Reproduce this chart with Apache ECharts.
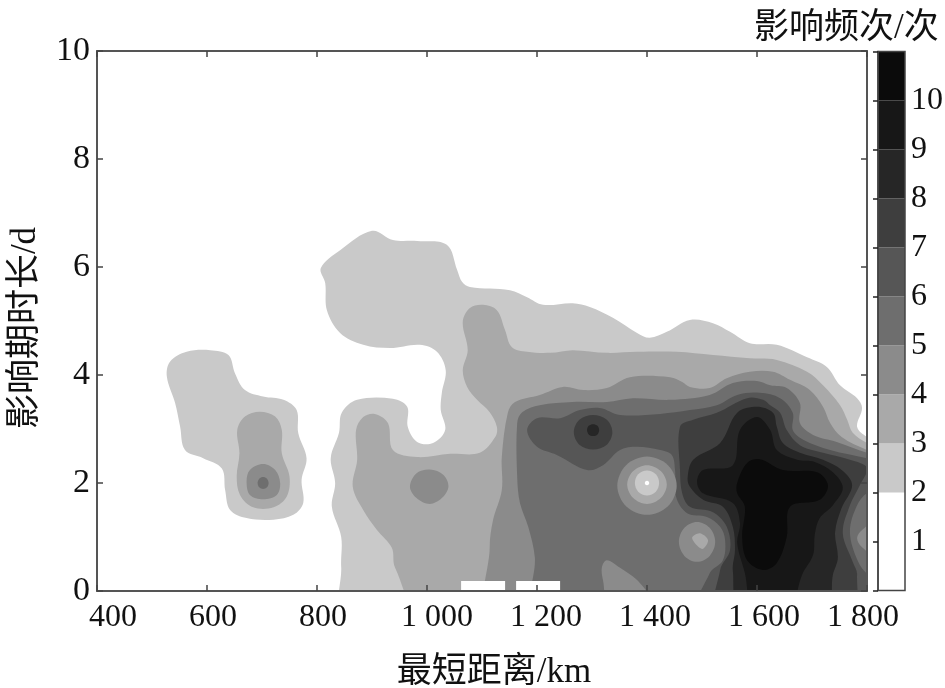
<!DOCTYPE html>
<html><head><meta charset="utf-8">
<style>html,body{margin:0;padding:0;background:#fff}#c{width:945px;height:688px}</style>
<script src="https://cdn.jsdelivr.net/npm/echarts@6/dist/echarts.min.js"></script>
</head><body><div id="c"></div>
<script>
const xTickLabels = {400:'400',600:'600',800:'800',1000:'1 000',1200:'1 200',1400:'1 400',1600:'1 600',1800:'1 800'};
const yTicks = [0,2,4,6,8,10];
const colorbarTicks = [1,2,3,4,5,6,7,8,9,10];
const colorbarLow  = [0,2,3,4,5,6,7,8,9,10];
const colorbarHigh = [2,3,4,5,6,7,8,9,10,11];
const levelGray = {1:'#ffffff',2:'#c9c9c9',3:'#a9a9a9',4:'#8b8b8b',5:'#6e6e6e',6:'#565656',7:'#3e3e3e',8:'#262626',9:'#171717',10:'#0b0b0b'};

// contour outlines as [distance km, duration d]
const c2Main = [[807,5.98],[842,6.31],[900,6.67],[938,6.50],[982,6.48],[1036,6.41],[1055,5.94],[1064,5.72],[1078,5.63],[1151,5.57],[1182,5.44],[1211,5.30],[1265,5.33],[1296,5.26],[1338,5.06],[1382,4.78],[1405,4.69],[1436,4.80],[1478,5.02],[1520,4.96],[1551,4.80],[1587,4.59],[1636,4.56],[1691,4.33],[1727,4.15],[1751,3.81],[1782,3.57],[1791,3.39],[1782,3.04],[1800,2.85],[1830,2.7],[1830,-0.5],[853,-0.5],[844,0.44],[844,1.0],[827,1.56],[833,2.0],[825,2.46],[840,2.93],[845,3.30],[873,3.54],[938,3.56],[964,3.41],[965,3.04],[982,2.76],[1011,2.74],[1033,2.98],[1025,3.35],[1027,3.67],[1034,4.09],[1018,4.43],[987,4.56],[933,4.50],[884,4.56],[842,4.78],[818,5.20],[815,5.70]];
const c2Left = [[527,3.97],[533,4.25],[563,4.43],[606,4.46],[639,4.37],[651,4.03],[669,3.72],[702,3.60],[739,3.54],[763,3.35],[766,2.92],[781,2.46],[772,2.06],[775,1.63],[757,1.41],[721,1.32],[672,1.35],[642,1.50],[633,1.87],[627,2.27],[593,2.46],[560,2.61],[551,3.05],[542,3.48]];
const c3Main = [[1065,4.98],[1078,5.24],[1102,5.30],[1127,5.20],[1142,4.83],[1154,4.52],[1182,4.43],[1224,4.41],[1265,4.46],[1327,4.41],[1382,4.43],[1454,4.43],[1520,4.37],[1587,4.31],[1636,4.28],[1691,4.06],[1720,3.81],[1751,3.44],[1764,3.17],[1774,2.93],[1800,2.74],[1830,2.6],[1830,-0.5],[1000,-0.5],[942,0.43],[936,0.80],[909,1.13],[884,1.50],[865,1.93],[873,2.43],[871,2.98],[884,3.22],[905,3.28],[929,3.11],[938,2.61],[982,2.48],[1042,2.54],[1096,2.56],[1124,2.85],[1127,3.04],[1114,3.31],[1091,3.54],[1073,3.78],[1065,4.09],[1074,4.46]];
const c3Left = [[655,2.98],[669,3.23],[696,3.32],[724,3.23],[736,2.98],[736,2.55],[750,2.12],[745,1.75],[721,1.55],[684,1.55],[660,1.78],[654,2.12],[659,2.55]];
const c4Main = [[1120,-0.5],[1114,0.81],[1120,1.31],[1136,1.87],[1136,2.48],[1147,3.30],[1160,3.50],[1205,3.63],[1247,3.78],[1284,3.72],[1327,3.76],[1369,3.96],[1442,3.96],[1464,3.87],[1478,3.78],[1514,3.76],[1545,3.94],[1587,4.06],[1629,4.06],[1660,3.91],[1696,3.72],[1720,3.41],[1733,3.11],[1754,2.85],[1800,2.61],[1830,2.52],[1830,-0.5]];
const c4Left = [[672,2.03],[678,2.24],[702,2.35],[724,2.24],[733,2.0],[727,1.78],[702,1.70],[678,1.78]];
const c4At1000 = [[969,1.93],[981,2.18],[1005,2.25],[1030,2.15],[1039,1.93],[1027,1.72],[1005,1.61],[981,1.72]];
const c5Main = [[1200,-0.5],[1196,0.63],[1184,1.19],[1169,1.63],[1164,2.11],[1164,3.11],[1173,3.31],[1205,3.44],[1265,3.50],[1327,3.50],[1374,3.57],[1442,3.54],[1514,3.63],[1556,3.85],[1600,3.89],[1624,3.81],[1654,3.76],[1678,3.48],[1678,3.11],[1702,2.89],[1745,2.76],[1800,2.56],[1830,2.5],[1830,-0.5]];
const c5Left = [[692,2],[695,2.08],[702,2.11],[709,2.08],[712,2],[709,1.92],[702,1.89],[695,1.92]];
const c6Main = [[1182,2.98],[1200,3.20],[1242,3.20],[1278,3.35],[1314,3.39],[1351,3.26],[1424,3.28],[1478,3.35],[1527,3.44],[1564,3.63],[1605,3.67],[1642,3.57],[1665,3.30],[1665,2.98],[1684,2.80],[1733,2.61],[1800,2.46],[1830,2.39],[1830,1.91],[1802,1.83],[1782,1.59],[1769,1.09],[1784,0.54],[1802,0.30],[1830,0.11],[1830,-0.5],[1491,-0.5],[1514,0.33],[1538,0.57],[1542,0.94],[1533,1.19],[1509,1.37],[1473,1.44],[1453,1.74],[1451,2.24],[1445,2.52],[1424,2.61],[1382,2.67],[1351,2.61],[1320,2.33],[1291,2.24],[1236,2.52],[1200,2.67]];
const c7Main = [[1460,2.24],[1460,3.04],[1484,3.17],[1527,3.30],[1582,3.57],[1611,3.54],[1624,3.44],[1642,3.30],[1654,2.98],[1678,2.70],[1720,2.56],[1769,2.43],[1800,2.28],[1787,1.96],[1769,1.59],[1756,1.07],[1774,0.54],[1782,0.30],[1769,-0.5],[1529,-0.5],[1533,0.39],[1551,0.76],[1545,1.19],[1520,1.46],[1478,1.56],[1464,1.81]];
const c7At1300 = [[1337,2.94],[1327,3.17],[1302,3.26],[1277,3.17],[1267,2.94],[1277,2.71],[1302,2.62],[1327,2.71]];
const c8Main = [[1474,2.11],[1484,2.43],[1533,2.74],[1564,3.30],[1600,3.41],[1629,3.30],[1636,3.04],[1647,2.74],[1678,2.56],[1720,2.43],[1754,2.24],[1773,1.96],[1754,1.54],[1742,1.09],[1747,0.61],[1738,0.30],[1724,-0.5],[1573,-0.5],[1556,0.39],[1560,0.76],[1556,1.19],[1538,1.56],[1502,1.69],[1478,1.93]];
const c8At1300 = [[1313,2.98],[1310,3.06],[1302,3.09],[1294,3.06],[1291,2.98],[1294,2.90],[1302,2.87],[1310,2.90]];
const c9Main = [[1491,2.02],[1502,2.24],[1556,2.33],[1569,2.98],[1600,3.22],[1624,2.98],[1636,2.61],[1673,2.43],[1705,2.39],[1738,2.20],[1756,1.91],[1738,1.59],[1714,1.35],[1705,1.04],[1702,0.67],[1682,0.30],[1654,-0.5],[1596,-0.5],[1578,0.33],[1564,0.89],[1569,1.26],[1556,1.63],[1502,1.81]];
const c10Main = [[1564,1.81],[1564,2.0],[1582,2.37],[1605,2.44],[1647,2.24],[1709,2.20],[1729,1.96],[1714,1.69],[1660,1.56],[1654,1.0],[1636,0.52],[1611,0.39],[1582,0.57],[1573,1.0],[1578,1.56]];
// local minima painted over the higher levels
const low4At1400 = [[1454,1.95],[1438,2.33],[1400,2.49],[1362,2.33],[1346,1.95],[1362,1.57],[1400,1.41],[1438,1.57]];
const low3At1400 = [[1436,1.97],[1425,2.22],[1400,2.33],[1375,2.22],[1364,1.97],[1375,1.72],[1400,1.61],[1425,1.72]];
const low2At1400 = [[1422,2],[1416,2.16],[1400,2.23],[1384,2.16],[1378,2],[1384,1.84],[1400,1.77],[1416,1.84]];
const low1At1400 = [[1404,2],[1403,2.03],[1400,2.04],[1397,2.03],[1396,2],[1397,1.97],[1400,1.96],[1403,1.97]];
const low4At1490 = [[1524,0.91],[1514,1.17],[1491,1.28],[1468,1.17],[1458,0.91],[1468,0.65],[1491,0.54],[1514,0.65]];
const low3At1490 = [[1482,0.98],[1496,1.07],[1511,0.94],[1500,0.78]];
const low4At1340 = [[1318,0.44],[1327,0.57],[1351,0.43],[1387,0.15],[1414,-0.3],[1333,-0.3],[1320,0.2]];
const low4At1800 = [[1830,1.4],[1791,1.13],[1782,0.98],[1791,0.81],[1830,0.55]];
const gapA = [[1062,0],[1142,0],[1142,0.185],[1062,0.185]];
const gapB = [[1162,0],[1242,0],[1242,0.185],[1162,0.185]];

const layers = [
  [c2Main,2],[c2Left,2],[c3Main,3],[c3Left,3],[c4Main,4],[c4Left,4],[c4At1000,4],
  [c5Main,5],[c5Left,5],[c6Main,6],[c7Main,7],[c7At1300,7],[c8Main,8],[c8At1300,8],[c9Main,9],[c10Main,10],
  [low4At1400,4],[low3At1400,3],[low2At1400,2],[low1At1400,1],[low4At1490,4],[low3At1490,3],[low4At1340,4],[low4At1800,4],
  [gapA,1,true],[gapB,1,true]
];

const serif = '"Liberation Serif","Noto Sans CJK SC",serif';
const labelPad = {400:[0,0,0,32],600:[0,0,0,12],800:[0,0,0,12],1000:[0,0,0,20],1200:[0,0,0,18],1400:[0,0,0,16],1600:[0,0,0,14],1800:[0,8,0,0]};
const rich = {};
Object.keys(labelPad).forEach(k=>{rich['v'+k]={fontFamily:serif,fontSize:32,color:'#111',padding:labelPad[k]};});

const axisLine = {show:true,onZero:false,lineStyle:{color:'#555',width:2}};
const axisTick = {show:true,inside:true,length:6,lineStyle:{color:'#444',width:1.5}};

const option = {
  animation:false,
  backgroundColor:'#fff',
  title:{text:'影响频次/次',left:749,top:6,textStyle:{fontFamily:serif,fontSize:35,fontWeight:'normal',color:'#111'}},
  grid:[
    {left:97,top:51,width:770,height:540,outerBoundsMode:'none',containLabel:false},
    {left:878,top:51.5,width:27,height:539,outerBoundsMode:'none',containLabel:false}
  ],
  xAxis:[
    {gridIndex:0,type:'value',min:400,max:1800,interval:200,z:10,position:'bottom',
     name:'最短距离/km',nameLocation:'middle',nameGap:64,
     nameTextStyle:{fontFamily:serif,fontSize:35,color:'#111',padding:[0,0,0,24]},
     axisLine,axisTick,splitLine:{show:false},
     axisLabel:{margin:11,formatter:v=>'{v'+v+'|'+xTickLabels[v]+'}',rich}},
    {gridIndex:0,type:'value',min:400,max:1800,interval:200,z:10,position:'top',
     axisLine,axisTick,splitLine:{show:false},axisLabel:{show:false}},
    {gridIndex:1,type:'value',min:0,max:1,show:false}
  ],
  yAxis:[
    {gridIndex:0,type:'value',min:0,max:10,interval:2,z:10,position:'left',
     name:'影响期时长/d',nameLocation:'middle',nameGap:54,
     nameTextStyle:{fontFamily:serif,fontSize:35,color:'#111',padding:[0,14,0,0]},
     axisLine,axisTick,splitLine:{show:false},
     axisLabel:{margin:7,fontFamily:serif,fontSize:34,color:'#111',padding:[4,0,0,0],formatter:v=>yTicks.includes(v)?String(v):''}},
    {gridIndex:0,type:'value',min:0,max:10,interval:2,z:10,position:'right',
     axisLine,axisTick,splitLine:{show:false},axisLabel:{show:false}},
    {gridIndex:1,type:'value',min:0,max:11,interval:1,z:10,position:'right',
     axisLine:{show:true,lineStyle:{color:'#444',width:1.5}},
     axisTick:{show:true,inside:true,length:5,lineStyle:{color:'#222',width:1.5}},
     splitLine:{show:false},
     axisLabel:{margin:6,fontFamily:serif,fontSize:32,color:'#111',padding:[5,0,0,0],formatter:v=>colorbarTicks.includes(v)?String(v):''}}
  ],
  series:[
    {type:'custom',xAxisIndex:0,yAxisIndex:0,clip:true,silent:true,
     data:layers.map((l,i)=>[i]),
     renderItem:(params,api)=>{
       const l=layers[params.dataIndex];
       return {type:'polygon',
         shape:{points:l[0].map(p=>api.coord(p)),smooth:l[2]?0:0.35},
         style:{fill:levelGray[l[1]],stroke:null}};
     }},
    {type:'custom',xAxisIndex:2,yAxisIndex:2,silent:true,
     data:colorbarLow.map((lo,i)=>[0,lo,colorbarHigh[i],i+1]),
     renderItem:(params,api)=>{
       const a=api.coord([0,api.value(1)]), b=api.coord([1,api.value(2)]);
       return {type:'rect',shape:{x:a[0],y:b[1],width:b[0]-a[0],height:a[1]-b[1]},
         style:{fill:levelGray[api.value(3)],stroke:'#444',lineWidth:0}};
     }},
    {type:'custom',xAxisIndex:2,yAxisIndex:2,silent:true,z:5,
     data:[[0]],
     renderItem:(params,api)=>{
       const a=api.coord([0,0]), b=api.coord([1,11]);
       return {type:'rect',shape:{x:a[0],y:b[1],width:b[0]-a[0],height:a[1]-b[1]},
         style:{fill:'none',stroke:'#444',lineWidth:1.5}};
     }}
  ]
};
echarts.init(document.getElementById('c'),null,{renderer:'canvas'}).setOption(option);
</script></body></html>
